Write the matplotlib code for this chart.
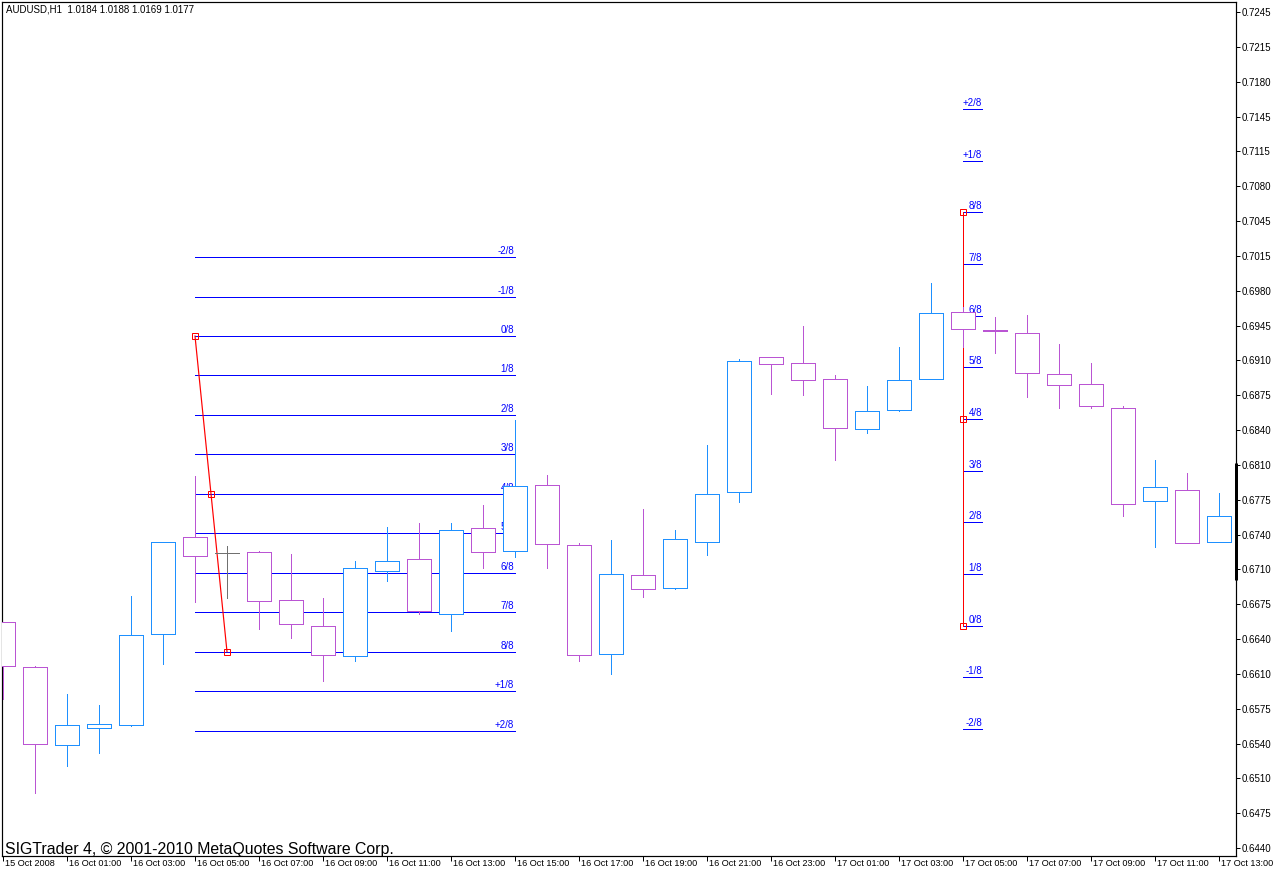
import numpy as np
import matplotlib.pyplot as plt
from matplotlib.patches import Rectangle
from matplotlib import font_manager
import matplotlib.transforms as mtrans

# ---- data (H1 candles, 15 Oct 23:00 -> 17 Oct 13:00) ----
opens = [0.6658, 0.6614, 0.6539, 0.6556, 0.6558, 0.6646, 0.6739, 0.6724, 0.6725, 0.6679,
         0.6654, 0.6625, 0.6707, 0.6718, 0.6665, 0.6748, 0.6726, 0.6790, 0.6732, 0.6627,
         0.6703, 0.6690, 0.6735, 0.6783, 0.6913, 0.6907, 0.6892, 0.6843, 0.6862, 0.6892,
         0.6956, 0.6939, 0.6936, 0.6896, 0.6887, 0.6864, 0.6774, 0.6785, 0.6735]
highs = [0.6658, 0.6615, 0.6588, 0.6578, 0.6683, 0.6735, 0.6798, 0.6731, 0.6726, 0.6723,
         0.6681, 0.6716, 0.6749, 0.6753, 0.6753, 0.6770, 0.6852, 0.6799, 0.6734, 0.6737,
         0.6766, 0.6746, 0.6828, 0.6911, 0.6913, 0.6943, 0.6895, 0.6885, 0.6922, 0.6984,
         0.6961, 0.6951, 0.6953, 0.6925, 0.6907, 0.6866, 0.6814, 0.6801, 0.6782]
lows = [0.6583, 0.6493, 0.6519, 0.6531, 0.6557, 0.6617, 0.6677, 0.6681, 0.6651, 0.6642,
        0.6601, 0.6620, 0.6697, 0.6665, 0.6649, 0.6710, 0.6720, 0.6710, 0.6620, 0.6608,
        0.6682, 0.6689, 0.6722, 0.6773, 0.6877, 0.6876, 0.6814, 0.6840, 0.6861, 0.6892,
        0.6922, 0.6917, 0.6874, 0.6864, 0.6864, 0.6760, 0.6730, 0.6734, 0.6735]
closes = [0.6615, 0.6540, 0.6558, 0.6559, 0.6645, 0.6735, 0.6721, 0.6724, 0.6678, 0.6656,
          0.6626, 0.6710, 0.6716, 0.6668, 0.6746, 0.6725, 0.6789, 0.6733, 0.6626, 0.6704,
          0.6689, 0.6738, 0.6781, 0.6909, 0.6906, 0.6891, 0.6844, 0.6861, 0.6891, 0.6955,
          0.6940, 0.6938, 0.6897, 0.6886, 0.6866, 0.6771, 0.6788, 0.6734, 0.6760]

xtick_labels = ["15 Oct 2008", "16 Oct 01:00", "16 Oct 03:00", "16 Oct 05:00", "16 Oct 07:00",
                "16 Oct 09:00", "16 Oct 11:00", "16 Oct 13:00", "16 Oct 15:00", "16 Oct 17:00",
                "16 Oct 19:00", "16 Oct 21:00", "16 Oct 23:00", "17 Oct 01:00", "17 Oct 03:00",
                "17 Oct 05:00", "17 Oct 07:00", "17 Oct 09:00", "17 Oct 11:00", "17 Oct 13:00"]
ytick_labels = ["0.6440", "0.6475", "0.6510", "0.6540", "0.6575", "0.6610", "0.6640", "0.6675",
                "0.6710", "0.6740", "0.6775", "0.6810", "0.6840", "0.6875", "0.6910", "0.6945",
                "0.6980", "0.7015", "0.7045", "0.7080", "0.7115", "0.7145", "0.7180", "0.7215",
                "0.7245"]

# murrey / fibo levels
level_labels = ["-2/8", "-1/8", "0/8", "1/8", "2/8", "3/8", "4/8", "5/8", "6/8", "7/8",
                "8/8", "+1/8", "+2/8"]
left_hi, left_lo = 0.6933, 0.6629      # 0/8 (candle 6) -> 8/8 (candle 7)
right_lo, right_hi = 0.6654, 0.7052    # 0/8 -> 8/8, vertical at candle 30

header = "AUDUSD,H1  1.0184 1.0188 1.0169 1.0177"
watermark = "SIGTrader 4, \u00a9 2001-2010 MetaQuotes Software Corp."

BULL = "#1E90FF"
BEAR = "#BA55D3"
DOJI = "#707070"
FIBO = "#0000FF"
RED = "#FF0000"
PX = 0.72  # 1 pixel in points at dpi 100

installed = {f.name for f in font_manager.fontManager.ttflist}
small_font = "Liberation Sans" if "Liberation Sans" in installed else "DejaVu Sans"
wm_font = "Liberation Sans Narrow" if "Liberation Sans Narrow" in installed else small_font
wm_size = 13 if wm_font == "Liberation Sans Narrow" else 11.4

fig = plt.figure(figsize=(12.74, 8.72), dpi=100)
ax = fig.add_axes([2 / 1274, 16 / 872, 1234 / 1274, 854 / 872])

# ---- axes / scales ----
step = (0.7245 - 0.6440) / 836.0
ax.set_ylim(0.6440 - 8 * step, 0.6440 + 846 * step)
ax.set_xlim(-1 / 32, 1233 / 32)

n = len(opens)
x = np.arange(n)

# ---- fibo set left ----
for k, lab in enumerate(level_labels):
    p = left_hi - (k - 2) / 8 * (left_hi - left_lo)
    ax.plot([6, 16], [p, p], color=FIBO, lw=PX, zorder=1, antialiased=False)
    ax.annotate(lab, xy=(16, p), xytext=(-1, 1), textcoords="offset pixels",
                ha="right", va="bottom", color=FIBO, fontsize=7, family=small_font, zorder=2)
ax.plot([6, 7], [left_hi, left_lo], color=RED, lw=PX * 1.2, zorder=2.5)
ax.plot([6, 6.5, 7], [left_hi, (left_hi + left_lo) / 2, left_lo], ls="none", marker="s",
        ms=4, mec=RED, mfc="none", mew=PX, zorder=2.6)

# ---- fibo set right ----
for k, lab in enumerate(level_labels):
    p = right_lo + (k - 2) / 8 * (right_hi - right_lo)
    ax.plot([30, 30.6], [p, p], color=FIBO, lw=PX, zorder=1, antialiased=False)
    ax.annotate(lab, xy=(30.6, p), xytext=(0, 1), textcoords="offset pixels",
                ha="right", va="bottom", color=FIBO, fontsize=7, family=small_font, zorder=2)
ax.plot([30, 30], [right_lo, right_hi], color=RED, lw=PX, zorder=2.5, antialiased=False)
ax.plot([30, 30, 30], [right_lo, (right_lo + right_hi) / 2, right_hi], ls="none", marker="s",
        ms=4, mec=RED, mfc="none", mew=PX, zorder=2.6)

# ---- candles ----
colors = []
for o, c in zip(opens, closes):
    colors.append(BULL if c > o else (BEAR if c < o else DOJI))
ax.vlines(x, lows, highs, colors=colors, lw=PX, zorder=3, antialiased=False)
for i in range(n):
    o, c = opens[i], closes[i]
    if o == c:
        ax.plot([i - 0.375, i + 0.375], [o, o], color=colors[i], lw=PX, zorder=4,
                antialiased=False)
        continue
    ax.add_patch(Rectangle((i - 0.375, min(o, c)), 0.75, abs(c - o), facecolor="white",
                           edgecolor=colors[i], lw=PX, zorder=4, antialiased=False))

# black marker bar on price axis
ax.plot([1, 1], [0.66981, 0.68107], color="black", lw=3 * PX, solid_capstyle="butt",
        transform=mtrans.blended_transform_factory(ax.transAxes, ax.transData),
        clip_on=False, zorder=6)

# ---- ticks ----
ax.set_yticks(np.linspace(0.6440, 0.7245, len(ytick_labels)))
ax.set_yticklabels(ytick_labels)
ax.yaxis.tick_right()
ax.set_xticks(x[::2])
ax.set_xticklabels(xtick_labels)
ax.tick_params(axis="y", direction="out", length=4 * PX, width=PX, pad=1.5,
               labelsize=7, colors="black")
ax.tick_params(axis="x", direction="out", length=5 * PX, width=PX, pad=-1.5,
               labelsize=6.6, colors="black")
for lbl in ax.get_xticklabels():
    lbl.set_horizontalalignment("left")
    lbl.set_family(small_font)
    lbl.set_transform(lbl.get_transform() + mtrans.ScaledTranslation(2 / 100, 0, fig.dpi_scale_trans))
for lbl in ax.get_yticklabels():
    lbl.set_family(small_font)
for sp in ax.spines.values():
    sp.set_linewidth(PX * 1.2)
    sp.set_color("black")

fig.text(6 / 1274, 1 - 10 / 872, header, fontsize=7, family=small_font, va="center", ha="left")
fig.text(5 / 1274, 1 - 854 / 872, watermark, fontsize=wm_size, family=wm_font,
         va="baseline", ha="left", color="black")

fig.savefig("out.png", dpi=100)
